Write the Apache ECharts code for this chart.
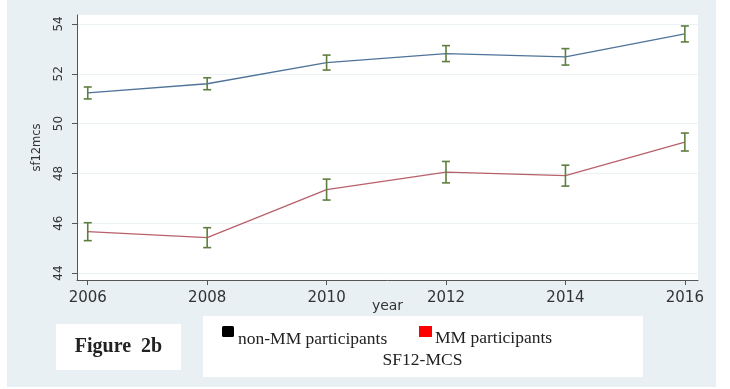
<!DOCTYPE html>
<html>
<head>
<meta charset="utf-8">
<script src="https://cdn.jsdelivr.net/npm/echarts@6/dist/echarts.min.js"></script>
<style>
  html, body { margin: 0; padding: 0; background: #ffffff; }
  #chart { width: 730px; height: 389px; }
</style>
</head>
<body>
<div id="chart"></div>
<script>
// Survey waves
const years = [2006, 2008, 2010, 2012, 2014, 2016];

// SF12 mental component score, non-MM participants: mean and 95% CI
const nonMMMean  = [51.23, 51.60, 52.45, 52.81, 52.68, 53.60];
const nonMMLower = [50.99, 51.36, 52.15, 52.49, 52.35, 53.28];
const nonMMUpper = [51.47, 51.84, 52.75, 53.13, 53.01, 53.92];

// SF12 mental component score, MM participants: mean and 95% CI
const mmMean  = [45.66, 45.42, 47.35, 48.05, 47.91, 49.26];
const mmLower = [45.30, 45.02, 46.93, 47.62, 47.49, 48.90];
const mmUpper = [46.02, 45.82, 47.77, 48.48, 48.33, 49.62];

// Axis ticks
const xTicks = [2006, 2008, 2010, 2012, 2014, 2016];
const yTicks = [44, 46, 48, 50, 52, 54];

const chart = echarts.init(document.getElementById('chart'), null, { renderer: 'canvas' });

const pairs = (xs, ys) => xs.map((x, i) => [x, ys[i]]);
const ciData = (xs, lo, hi) => xs.map((x, i) => [x, lo[i], hi[i]]);

// Capped vertical bar for each confidence interval
function ciBar(params, api) {
  const x = api.value(0);
  const top = api.coord([x, api.value(2)]);
  const bot = api.coord([x, api.value(1)]);
  const hw = 4;
  const style = { stroke: '#5d7e3e', lineWidth: 1.6, fill: null };
  return {
    type: 'group',
    children: [
      { type: 'line', shape: { x1: top[0], y1: top[1], x2: bot[0], y2: bot[1] }, style },
      { type: 'line', shape: { x1: top[0] - hw, y1: top[1], x2: top[0] + hw, y2: top[1] }, style },
      { type: 'line', shape: { x1: bot[0] - hw, y1: bot[1], x2: bot[0] + hw, y2: bot[1] }, style }
    ]
  };
}

const serif = '"Liberation Serif", "Times New Roman", serif';

const option = {
  animation: false,
  backgroundColor: '#ffffff',
  graphic: [
    { type: 'rect', z: -10, shape: { x: 7, y: 0, width: 709, height: 387 }, style: { fill: '#e9f0f3' } },
    // caption box
    { type: 'rect', z: -5, shape: { x: 56, y: 324, width: 125, height: 46 }, style: { fill: '#ffffff' } },
    { type: 'text', z: 2, style: { x: 118.5, y: 347, text: 'Figure  2b', fill: '#222', font: 'bold 20px ' + serif, align: 'center', verticalAlign: 'middle' } },
    // legend box
    { type: 'rect', z: -5, shape: { x: 203, y: 316, width: 440, height: 61 }, style: { fill: '#ffffff' } },
    { type: 'rect', z: 2, shape: { x: 222, y: 326, width: 12, height: 11, r: 1.5 }, style: { fill: '#000000' } },
    { type: 'text', z: 2, style: { x: 238, y: 339, text: 'non-MM participants', fill: '#222', font: '17.5px ' + serif, align: 'left', verticalAlign: 'middle' } },
    { type: 'rect', z: 2, shape: { x: 419, y: 326, width: 13, height: 11 }, style: { fill: '#ff0000' } },
    { type: 'text', z: 2, style: { x: 435, y: 338, text: 'MM participants', fill: '#222', font: '17.5px ' + serif, align: 'left', verticalAlign: 'middle' } },
    { type: 'text', z: 2, style: { x: 422.5, y: 360, text: 'SF12-MCS', fill: '#222', font: '17.5px ' + serif, align: 'center', verticalAlign: 'middle' } }
  ],
  grid: {
    left: 77, right: 32, top: 15, bottom: 109,
    show: true, backgroundColor: '#ffffff', borderWidth: 0
  },
  xAxis: {
    type: 'value',
    min: 2005.82, max: 2016.22,
    name: 'year',
    nameLocation: 'middle',
    nameGap: 19,
    nameMoveOverlap: false,
    nameTextStyle: { fontFamily: 'DejaVu Sans', fontSize: 14, color: '#333' },
    axisLine: { show: true, lineStyle: { color: '#555', width: 1 } },
    axisTick: { show: true, inside: false, length: 5, customValues: xTicks, lineStyle: { color: '#555' } },
    axisLabel: { customValues: xTicks, margin: 11, fontFamily: 'DejaVu Sans', fontSize: 15, color: '#333', formatter: v => String(v) },
    splitLine: { show: false }
  },
  yAxis: {
    type: 'value',
    min: 43.72, max: 54.36,
    name: 'sf12mcs',
    nameLocation: 'middle',
    nameGap: 34,
    nameMoveOverlap: false,
    nameRotate: 90,
    nameTextStyle: { fontFamily: 'DejaVu Sans', fontSize: 11.5, color: '#333' },
    axisLine: { show: true, lineStyle: { color: '#555', width: 1 } },
    axisTick: { show: true, inside: false, length: 5, customValues: yTicks, lineStyle: { color: '#555' } },
    axisLabel: { customValues: yTicks, rotate: 90, margin: 12, fontFamily: 'DejaVu Sans', fontSize: 12, color: '#333', formatter: v => String(v) },
    splitLine: { show: true, lineStyle: { color: '#eaf2f3', width: 1 } }
  },
  series: [
    {
      name: 'non-MM participants',
      type: 'line',
      data: pairs(years, nonMMMean),
      symbol: 'none',
      lineStyle: { color: '#4f7399', width: 1.3 },
      z: 3
    },
    {
      name: 'MM participants',
      type: 'line',
      data: pairs(years, mmMean),
      symbol: 'none',
      lineStyle: { color: '#b8606a', width: 1.3 },
      z: 3
    },
    {
      name: 'non-MM CI',
      type: 'custom',
      renderItem: ciBar,
      data: ciData(years, nonMMLower, nonMMUpper),
      encode: { x: 0, y: [1, 2] },
      z: 4
    },
    {
      name: 'MM CI',
      type: 'custom',
      renderItem: ciBar,
      data: ciData(years, mmLower, mmUpper),
      encode: { x: 0, y: [1, 2] },
      z: 4
    }
  ]
};

chart.setOption(option);
</script>
</body>
</html>
